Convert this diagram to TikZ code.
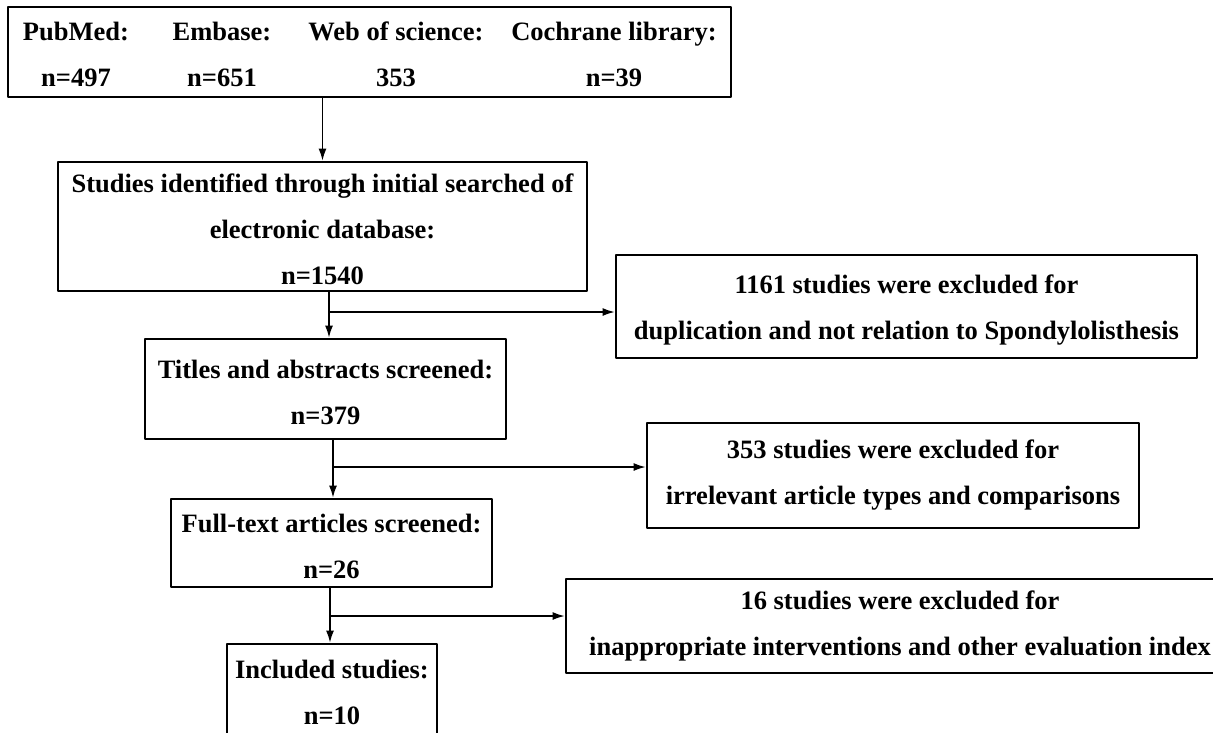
\documentclass[tikz,border=0pt]{standalone}
\usepackage{fontspec}
\setmainfont{Liberation Serif}
\usetikzlibrary{arrows.meta}
\newcommand\toprule{\rule{0pt}{25pt}}
\tikzset{
	box/.style={draw, line width=2.8pt, align=center, inner sep=0pt},
	lbl/.style={anchor=base, inner sep=0pt},
	link/.style={line width=1.4pt, -{Latex[length=12pt,width=8pt]}}
}
\begin{document}
\begin{tikzpicture}[x=1pt, y=-1pt, font=\bfseries\fontsize{26.5}{46}\selectfont, line join=round, line cap=round]
	\useasboundingbox (0,0) rectangle (1213,732);
	%Databases
	\node[box, minimum width=723, minimum height=90] (db) at (369.5,52) {};
	\node[lbl] (pubmed) at (76,40) {PubMed:};
	\node[lbl] (npubmed) at (76,86) {n=497};
	\node[lbl] (embase) at (222,40) {Embase:};
	\node[lbl] (nembase) at (222,86) {n=651};
	\node[lbl] (wos) at (396,40) {Web of science:};
	\node[lbl] (nwos) at (396,86) {353};
	\node[lbl] (cochrane) at (614,40) {Cochrane library:};
	\node[lbl] (ncochrane) at (614,86) {n=39};
	
	%Main column
	\node[box, minimum width=529, minimum height=129] (search) at (322.5,226.5)
		{\toprule Studies identified through initial searched of\\electronic database:\\n=1540};
	\node[box, minimum width=361, minimum height=100] (titles) at (325.5,389)
		{\toprule Titles and abstracts screened:\\n=379};
	\node[box, minimum width=321, minimum height=88] (full) at (331.5,543)
		{\toprule Full-text articles screened:\\n=26};
	\node[box, minimum width=210, minimum height=96] (incl) at (332,692)
		{Included studies:\\n=10};
	
	%Excluded
	\node[box, minimum width=581, minimum height=103] (excl1) at (906.5,306.5)
		{\toprule 1161 studies were excluded for\\duplication and not relation to Spondylolisthesis};
	\node[box, minimum width=492, minimum height=105] (excl2) at (893,475.5)
		{353 studies were excluded for\\irrelevant article types and comparisons};
	\node[box, minimum width=668, minimum height=94] (excl3) at (900,626)
		{16 studies were excluded for\\inappropriate interventions and other evaluation index};
	
	%Arrows
	\coordinate (j1) at (329,312);
	\coordinate (j2) at (333,467);
	\coordinate (j3) at (330,616);
	\draw[link] (search.north |- db.south) -- (search.north);
	\draw[link] (search.south -| j1) -- (titles.north -| j1);
	\draw[link] (j1) -- (excl1.west |- j1);
	\draw[link] (titles.south -| j2) -- (full.north -| j2);
	\draw[link] (j2) -- (excl2.west |- j2);
	\draw[link] (full.south -| j3) -- (incl.north -| j3);
	\draw[link] (j3) -- (excl3.west |- j3);
\end{tikzpicture}
\end{document}
